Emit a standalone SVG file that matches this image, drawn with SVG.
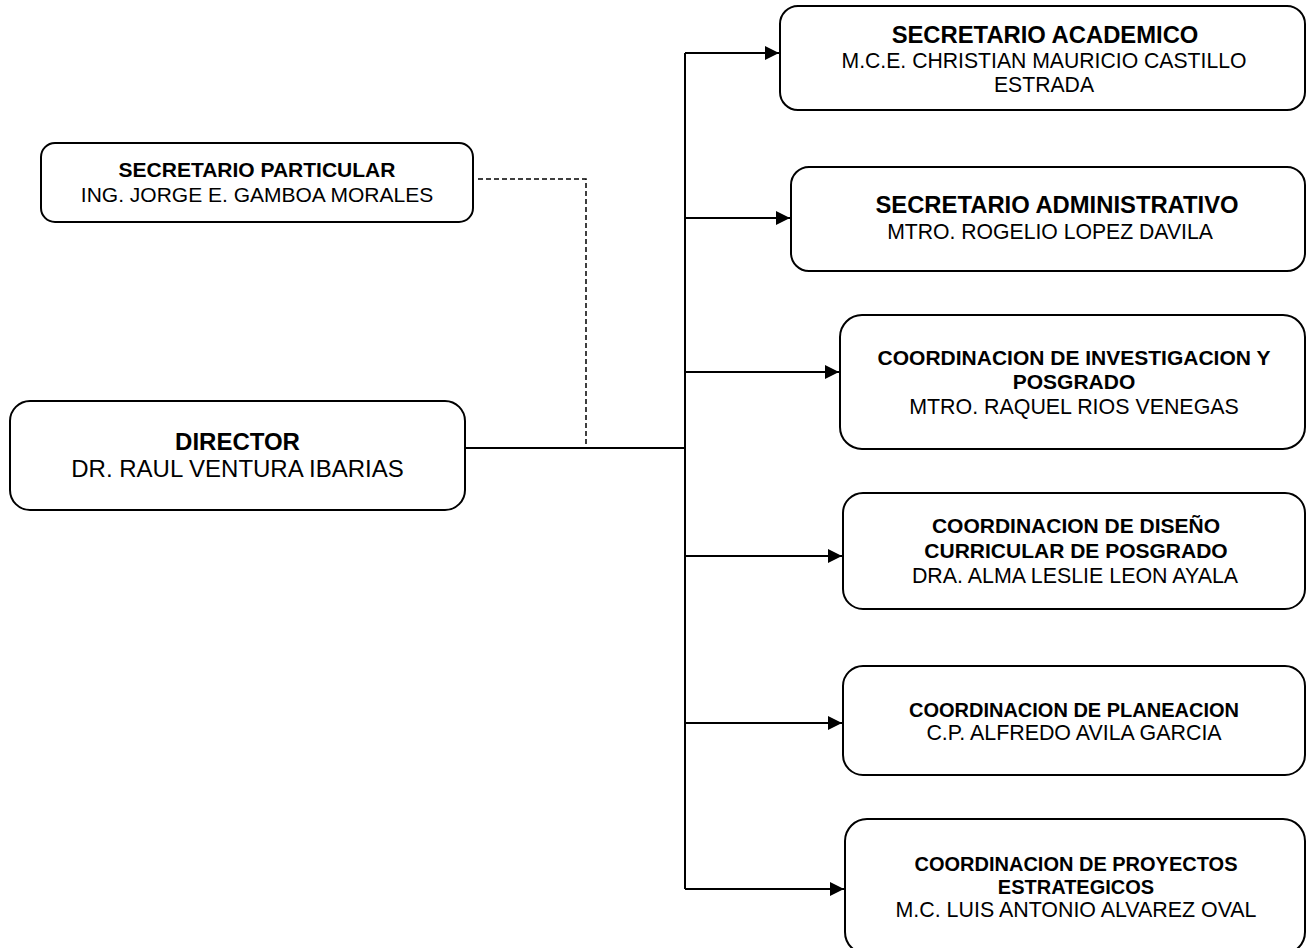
<svg xmlns="http://www.w3.org/2000/svg" width="1307" height="948" viewBox="0 0 1307 948">
<style>
.box{fill:#fff;stroke:#000;stroke-width:2}
.t{font-family:"Liberation Sans",Arial,sans-serif;text-anchor:middle;fill:#000}
.b{font-weight:bold}
.ln{fill:none;stroke:#000;stroke-width:2}
.dash{fill:none;stroke:#000;stroke-width:1.5;stroke-dasharray:5 3}
</style>
<defs>
<marker id="arr" markerUnits="userSpaceOnUse" markerWidth="14" markerHeight="14" refX="14" refY="7" orient="auto">
<path d="M0,0 L14,7 L0,14 Z" fill="#000"/>
</marker>
</defs>
<rect width="1307" height="948" fill="#fff"/>
<g id="connectors">
<path class="dash" d="M478 179 H586 V448"/>
<path class="ln" d="M465 448 H685"/>
<path class="ln" d="M685 53 V889"/>
<path class="ln" d="M685 53 H779" marker-end="url(#arr)"/>
<path class="ln" d="M685 218 H790" marker-end="url(#arr)"/>
<path class="ln" d="M685 372 H839" marker-end="url(#arr)"/>
<path class="ln" d="M685 556 H842" marker-end="url(#arr)"/>
<path class="ln" d="M685 723 H842" marker-end="url(#arr)"/>
<path class="ln" d="M685 889 H844" marker-end="url(#arr)"/>
</g>
<g id="secretario-particular">
<rect class="box" x="41" y="143" width="432" height="79" rx="14"/>
<text class="t b" x="257" y="177" font-size="21">SECRETARIO PARTICULAR</text>
<text class="t" x="257" y="202" font-size="21">ING. JORGE E. GAMBOA MORALES</text>
</g>
<g id="director">
<rect class="box" x="10" y="401" width="455" height="109" rx="20"/>
<text class="t b" x="237.5" y="450" font-size="24">DIRECTOR</text>
<text class="t" x="237.5" y="477" font-size="24">DR. RAUL VENTURA IBARIAS</text>
</g>
<g id="secretario-academico">
<rect class="box" x="780" y="6" width="525" height="104" rx="18"/>
<text class="t b" x="1045" y="43" font-size="23.8">SECRETARIO ACADEMICO</text>
<text class="t" x="1044" y="68" font-size="21.2">M.C.E. CHRISTIAN MAURICIO CASTILLO</text>
<text class="t" x="1044" y="92" font-size="21.2">ESTRADA</text>
</g>
<g id="secretario-administrativo">
<rect class="box" x="791" y="167" width="514" height="104" rx="18"/>
<text class="t b" x="1057" y="213" font-size="23.8">SECRETARIO ADMINISTRATIVO</text>
<text class="t" x="1050" y="239" font-size="21.2">MTRO. ROGELIO LOPEZ DAVILA</text>
</g>
<g id="coord-investigacion">
<rect class="box" x="840" y="315" width="465" height="134" rx="22"/>
<text class="t b" x="1074" y="365" font-size="21">COORDINACION DE INVESTIGACION Y</text>
<text class="t b" x="1074" y="389" font-size="21">POSGRADO</text>
<text class="t" x="1074" y="414" font-size="21.4">MTRO. RAQUEL RIOS VENEGAS</text>
</g>
<g id="coord-diseno">
<rect class="box" x="843" y="493" width="462" height="116" rx="20"/>
<text class="t b" x="1076" y="533" font-size="21">COORDINACION DE DISEÑO</text>
<text class="t b" x="1076" y="558" font-size="21">CURRICULAR DE POSGRADO</text>
<text class="t" x="1075" y="583" font-size="21.4">DRA. ALMA LESLIE LEON AYALA</text>
</g>
<g id="coord-planeacion">
<rect class="box" x="843" y="666" width="462" height="109" rx="20"/>
<text class="t b" x="1074" y="717" font-size="20">COORDINACION DE PLANEACION</text>
<text class="t" x="1074" y="740" font-size="21.4">C.P. ALFREDO AVILA GARCIA</text>
</g>
<g id="coord-proyectos">
<rect class="box" x="845" y="819" width="460" height="135" rx="22"/>
<text class="t b" x="1076" y="871" font-size="20">COORDINACION DE PROYECTOS</text>
<text class="t b" x="1076" y="894" font-size="20">ESTRATEGICOS</text>
<text class="t" x="1076" y="917" font-size="21.4">M.C. LUIS ANTONIO ALVAREZ OVAL</text>
</g>
</svg>
